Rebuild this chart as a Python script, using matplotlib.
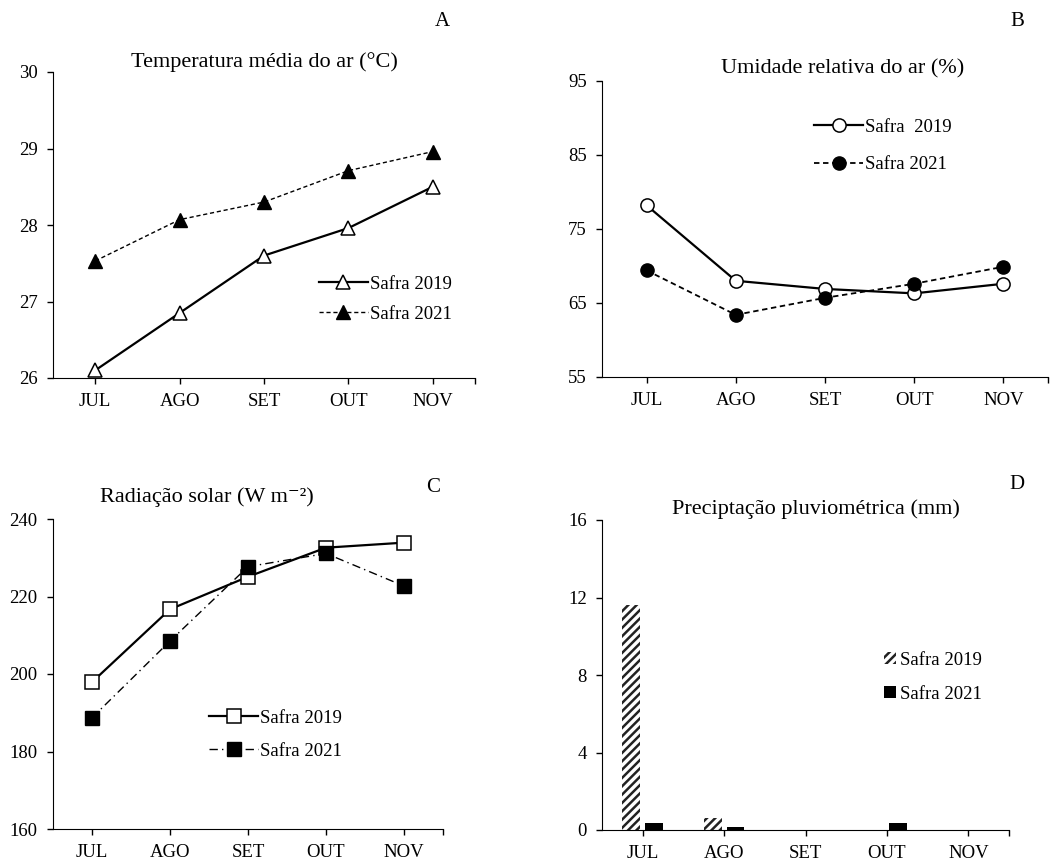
import matplotlib
matplotlib.use("Agg")
import matplotlib.pyplot as plt
import numpy as np

plt.rcParams['font.family'] = ['Liberation Serif', 'DejaVu Serif']
plt.rcParams['hatch.linewidth'] = 1.8

meses = ["JUL", "AGO", "SET", "OUT", "NOV"]

temp_2019 = [26.1, 26.85, 27.6, 27.96, 28.5]
temp_2021 = [27.53, 28.07, 28.3, 28.71, 28.96]

umid_2019 = [78.2, 68.0, 66.9, 66.3, 67.6]
umid_2021 = [69.4, 63.4, 65.7, 67.6, 69.9]

rad_2019 = [197.9, 216.7, 225.1, 232.6, 233.9]
rad_2021 = [188.7, 208.5, 227.7, 231.1, 222.7]

chuva_2019 = [11.6, 0.6, 0.0, 0.0, 0.0]
chuva_2021 = [0.35, 0.17, 0.0, 0.35, 0.0]

W, H = 1051, 861
fig = plt.figure(figsize=(W / 100, H / 100), dpi=100)

def box(l, r, b, t):
    return [l / W, 1 - b / H, (r - l) / W, (b - t) / H]

axA = fig.add_axes(box(53, 475, 378, 72))
axB = fig.add_axes(box(602, 1048, 377, 81))
axC = fig.add_axes(box(53, 443, 829, 519))
axD = fig.add_axes(box(602, 1009, 830, 520))

x = np.arange(len(meses))
fs = 13.5

def style(ax, ylim, yticks):
    for s in ["top", "right"]:
        ax.spines[s].set_visible(False)
    ax.set_xlim(-0.5, 4.5)
    ax.set_ylim(*ylim)
    ax.set_yticks(yticks)
    ax.set_xticks(x)
    ax.set_xticklabels(meses)
    ax.set_xticks([4.5], minor=True)
    ax.tick_params(which="both", direction="out", length=4, width=1, labelsize=fs)
    ax.tick_params(axis="x", pad=7)
    ax.tick_params(axis="y", pad=7)

# A
axA.plot(x, temp_2019, "k-", lw=1.6, marker="^", ms=9.5, mfc="white", mec="k", mew=1.1, label="Safra 2019")
axA.plot(x, temp_2021, "k--", lw=1.0, dashes=(3, 2), marker="^", ms=9.5, mfc="k", mec="k", label="Safra 2021")
style(axA, (26, 30), [26, 27, 28, 29, 30])
axA.text(0.5, 1.0, "Temperatura média do ar (°C)", transform=axA.transAxes, ha="center", va="bottom", fontsize=16)
fig.text(442 / W, 1 - 22 / H, "A", ha="center", va="center", fontsize=15)
axA.legend(loc="upper left", bbox_to_anchor=(0.608, 0.365), frameon=False, fontsize=fs,
           handlelength=2.6, handletextpad=0.1, labelspacing=0.7, borderpad=0)

# B
axB.plot(x, umid_2019, "k-", lw=1.6, marker="o", ms=9.5, mfc="white", mec="k", mew=1.1, label="Safra  2019")
axB.plot(x, umid_2021, "k--", lw=1.3, dashes=(3, 2), marker="o", ms=9.5, mfc="k", mec="k", label="Safra 2021")
style(axB, (55, 95), [55, 65, 75, 85, 95])
axB.text(843 / W, 1 - 69 / H, "Umidade relativa do ar (%)", transform=fig.transFigure, ha="center", va="center", fontsize=16)
fig.text(1017 / W, 1 - 22 / H, "B", ha="center", va="center", fontsize=15)
axB.legend(loc="upper left", bbox_to_anchor=(0.455, 0.905), frameon=False, fontsize=fs,
           handlelength=2.6, handletextpad=0.1, labelspacing=1.1, borderpad=0)

# C
axC.plot(x, rad_2019, "k-", lw=1.6, marker="s", ms=9.5, mfc="white", mec="k", mew=1.1, label="Safra 2019")
axC.plot(x, rad_2021, "k-.", lw=1.0, dashes=(6, 3, 1, 3), marker="s", ms=9.5, mfc="k", mec="k", label="Safra 2021")
style(axC, (160, 240), [160, 180, 200, 220, 240])
axC.text(207 / W, 1 - 497 / H, "Radiação solar (W m⁻²)", transform=fig.transFigure, ha="center", va="center", fontsize=16)
fig.text(433 / W, 1 - 488 / H, "C", ha="center", va="center", fontsize=15)
axC.legend(loc="upper left", bbox_to_anchor=(0.377, 0.415), frameon=False, fontsize=fs,
           handlelength=2.6, handletextpad=0.1, labelspacing=0.85, borderpad=0)

# D
bw = 0.22
axD.bar(x - 0.14, chuva_2019, bw, color="white", edgecolor="#222222", hatch="////", lw=0, label="Safra 2019")
axD.bar(x + 0.14, chuva_2021, bw, color="black", lw=0, label="Safra 2021")
style(axD, (0, 16), [0, 4, 8, 12, 16])
axD.text(816 / W, 1 - 509 / H, "Preciptação pluviométrica (mm)", transform=fig.transFigure, ha="center", va="center", fontsize=16)
fig.text(1017 / W, 1 - 484 / H, "D", ha="center", va="center", fontsize=15)
axD.legend(loc="upper left", bbox_to_anchor=(0.67, 0.605), frameon=False, fontsize=fs,
           handlelength=0.65, handleheight=0.65, handletextpad=0.2, labelspacing=0.9, borderpad=0)

fig.savefig("out.png", dpi=100)
